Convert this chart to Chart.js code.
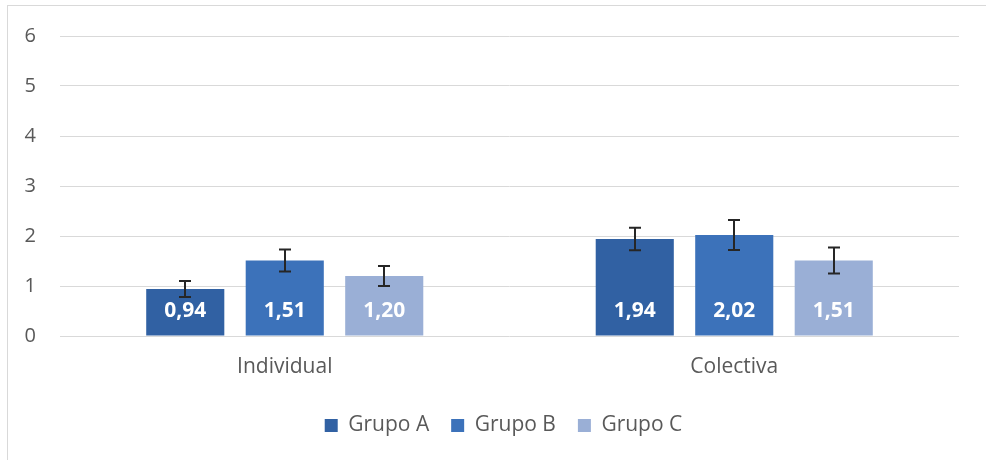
<!DOCTYPE html>
<html>
<head>
<meta charset="utf-8">
<script src="https://cdn.jsdelivr.net/npm/chart.js@4/dist/chart.umd.min.js"></script>
<style>
  html, body { margin: 0; padding: 0; background: #fff; }
  #frame { position: absolute; left: 7px; top: 5px; width: 1000px; height: 480px; border: 1px solid #d9d9d9; box-sizing: border-box; }
  #wrap { position: absolute; left: 0; top: 0; width: 986px; height: 460px; }
</style>
</head>
<body>
<div id="frame"></div>
<div id="wrap"><canvas id="c" width="986" height="460"></canvas></div>
<script>
const categories = ["Individual", "Colectiva"];
const seriesNames = ["Grupo A", "Grupo B", "Grupo C"];
const grupoA = [0.94, 1.94];
const grupoB = [1.51, 2.02];
const grupoC = [1.20, 1.51];
const errA = [0.16, 0.225];
const errB = [0.22, 0.30];
const errC = [0.20, 0.26];
const yTicks = [0, 1, 2, 3, 4, 5, 6];
const colors = ["#3161a3", "#3c72ba", "#9aafd6"];

const FONT = "'Open Sans', 'Noto Sans', sans-serif";
const errors = [errA, errB, errC];

const errorBarPlugin = {
  id: 'errorBars',
  afterLayout(chart) {
    const lg = chart.legend;
    if (lg) { lg.left += 24; lg.right += 24; }
  },
  afterDatasetsDraw(chart) {
    const ctx = chart.ctx;
    const y = chart.scales.y;
    ctx.save();
    ctx.strokeStyle = '#262626';
    ctx.lineWidth = 2;
    chart.data.datasets.forEach((ds, di) => {
      const meta = chart.getDatasetMeta(di);
      meta.data.forEach((bar, i) => {
        const v = ds.data[i], e = errors[di][i];
        const x = Math.round(bar.x);
        const t = y.getPixelForValue(v + e);
        const b = y.getPixelForValue(v - e);
        ctx.beginPath();
        ctx.moveTo(x, t); ctx.lineTo(x, b);
        ctx.moveTo(x - 6, t); ctx.lineTo(x + 6, t);
        ctx.moveTo(x - 6, b); ctx.lineTo(x + 6, b);
        ctx.stroke();
      });
    });
    ctx.restore();
  }
};

const labelPlugin = {
  id: 'barLabels',
  afterDatasetsDraw(chart) {
    const ctx = chart.ctx;
    ctx.save();
    ctx.fillStyle = '#ffffff';
    ctx.font = "bold 21px " + FONT;
    ctx.textAlign = 'center';
    ctx.textBaseline = 'middle';
    chart.data.datasets.forEach((ds, di) => {
      const meta = chart.getDatasetMeta(di);
      meta.data.forEach((bar, i) => {
        const txt = ds.data[i].toFixed(2).replace('.', ',');
        ctx.fillText(txt, bar.x, bar.base - 24);
      });
    });
    ctx.restore();
  }
};

const datasets = [grupoA, grupoB, grupoC].map((d, i) => ({
  label: seriesNames[i],
  data: d,
  backgroundColor: colors[i],
  borderWidth: 0,
  categoryPercentage: 0.664,
  barPercentage: 0.785
}));

new Chart(document.getElementById('c'), {
  type: 'bar',
  data: { labels: categories, datasets },
  plugins: [errorBarPlugin, labelPlugin],
  options: {
    responsive: false,
    animation: false,
    layout: { padding: { top: 24, right: 27, bottom: 14, left: 0 } },
    plugins: {
      legend: {
        position: 'bottom',
        labels: {
          boxWidth: 13, boxHeight: 13, padding: 22,
          color: '#595959',
          font: { family: FONT, size: 21 }
        }
      },
      tooltip: { enabled: false }
    },
    scales: {
      x: {
        grid: { display: false, drawTicks: false },
        border: { display: false },
        ticks: { color: '#595959', padding: 18, font: { family: FONT, size: 21 } },
        afterFit(s) { s.height = 57; }
      },
      y: {
        min: 0, max: 6,
        afterBuildTicks(s) { s.ticks = yTicks.map(v => ({ value: v })); },
        grid: { color: '#d9d9d9', lineWidth: 1, drawTicks: false },
        border: { display: false },
        ticks: { color: '#595959', padding: 24, font: { family: FONT, size: 20 } },
        afterFit(s) { s.width = 60; }
      }
    }
  }
});
</script>
</body>
</html>
